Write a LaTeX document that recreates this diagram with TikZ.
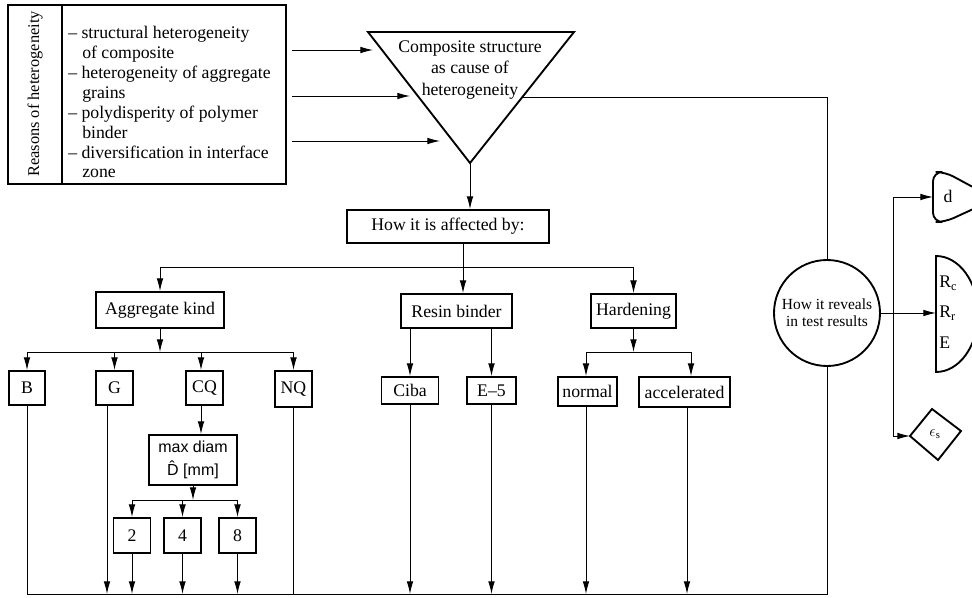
\documentclass[tikz,border=0pt]{standalone}
\usepackage{fontspec}
\setmainfont{Liberation Serif}
\newfontfamily\sansf{Liberation Sans}
\usetikzlibrary{arrows.meta}
\begin{document}
\begin{tikzpicture}[x=0.75pt,y=-0.75pt,
  thick line/.style={line width=1.4pt},
  txt/.style={font=\fontsize{13.3pt}{15.8pt}\selectfont},
  bx/.style 2 args={draw,thick line,inner sep=0pt,txt,minimum width=#1*0.75pt,minimum height=#2*0.75pt},
  conn/.style={line width=0.7pt},
  arr/.style={conn,-{Latex[length=9.5pt,width=5pt]}},
  lst/.style={anchor=base west,inner sep=0pt,txt},
]
\useasboundingbox (0,0) rectangle (972,598);
\clip (0,0) rectangle (972,598);

% ---- reasons box ----
\node[bx={278}{179}] (reasons) at (147,94.5) {};
\draw[thick line] (62,5) -- (62,184);
\node[rotate=90,inner sep=0pt,font=\fontsize{12.3pt}{14pt}\selectfont] (rlabel) at (35,94) {Reasons of heterogeneity};
\node[lst] (l1) at (68,39) {– structural heterogeneity};
\node[lst] (l2) at (82,59) {of composite};
\node[lst] (l3) at (68,79) {– heterogeneity of aggregate};
\node[lst] (l4) at (82,99) {grains};
\node[lst] (l5) at (68,119) {– polydisperity of polymer};
\node[lst] (l6) at (82,139) {binder};
\node[lst] (l7) at (68,159) {– diversification in interface};
\node[lst] (l8) at (82,178) {zone};

% ---- triangle ----
\coordinate (tA) at (368,32);
\coordinate (tB) at (574,32);
\coordinate (tC) at (470,163);
\coordinate (tR) at (522,97);
\draw[thick line] (tA) -- (tB) -- (tC) -- cycle;
\node[txt,align=center,inner sep=0pt] (tri) at (470,70) {Composite structure\\as cause of\\heterogeneity};

\coordinate (s1) at (292,50);  \coordinate (e1) at (373,50);
\coordinate (s2) at (292,96);  \coordinate (e2) at (410,96);
\coordinate (s3) at (292,141); \coordinate (e3) at (440,141);
\draw[arr] (s1) -- (e1);
\draw[arr] (s2) -- (e2);
\draw[arr] (s3) -- (e3);

% ---- how affected ----
\node[bx={202}{33}] (how) at (448,226.5) {How it is affected by:};
\draw[arr] (tC) -- (tC |- how.north);

\node[bx={128}{36}] (agg) at (160,310) {Aggregate kind};
\node[bx={111}{34}] (resin) at (456.5,311) {Resin binder};
\node[bx={85}{34}] (hard) at (633.5,311) {Hardening};

\coordinate (j1) at (160,267);
\coordinate (j2) at (633.5,267);
\draw[conn] (j1) -- (j2);
\draw[arr] (j1) -- (agg.north);
\draw[arr] (j2) -- (hard.north);
\draw[arr] (how.south -| 463,0) -- (resin.north -| 463,0);

% ---- aggregate kinds ----
\node[bx={36}{34}] (B) at (27,388) {B};
\node[bx={37}{34}] (G) at (114.5,388) {G};
\node[bx={37}{34}] (CQ) at (204.5,388) {CQ};
\node[bx={37}{36}] (NQ) at (293.5,389) {NQ};

\coordinate (kB) at (27,352);
\coordinate (kNQ) at (293.5,352);
\draw[conn] (kB) -- (kNQ);
\draw[arr] (agg.south) -- (agg.south |- kB);
\draw[arr] (kB) -- (B.north);
\draw[arr] (G.north |- kB) -- (G.north);
\draw[arr] (kB -| 201,0) -- (CQ.north -| 201,0);
\draw[arr] (kNQ) -- (NQ.north);

\node[bx={88}{50},align=center,font=\sansf\fontsize{12pt}{17pt}\selectfont] (maxd) at (193,460) {max diam\\\^{D} [mm]};
\draw[arr] (CQ.south -| 201,0) -- (maxd.north -| 201,0);

\node[bx={37}{35}] (n2) at (132,535.5) {2};
\node[bx={37}{35}] (n4) at (182.5,535.5) {4};
\node[bx={37}{35}] (n8) at (237.5,535.5) {8};
\coordinate (m2) at (132,500);
\coordinate (m8) at (237.5,500);
\draw[conn] (m2) -- (m8);
\draw[arr] (maxd.south) -- (maxd.south |- m2);
\draw[arr] (m2) -- (n2.north);
\draw[arr] (n4.north |- m2) -- (n4.north);
\draw[arr] (m8) -- (n8.north);

% ---- resin / hardening kinds ----
\node[bx={57}{27}] (ciba) at (410,390.5) {Ciba};
\node[bx={49}{27}] (e5) at (491.5,390.5) {E–5};
\node[bx={59}{29}] (normal) at (587.5,391.5) {normal};
\node[bx={91}{30}] (acc) at (684.5,392) {accelerated};

\draw[arr] (resin.south -| ciba.north) -- (ciba.north);
\draw[arr] (resin.south -| e5.north) -- (e5.north);
\coordinate (h1) at (586,352);
\coordinate (h2) at (691,352);
\draw[arr] (hard.south) -- (hard.south |- h1);
\draw[conn] (h1) -- (h2);
\draw[arr] (h1) -- (h1 |- normal.north);
\draw[arr] (h2) -- (h2 |- acc.north);

% ---- reveals circle ----
\node[draw,circle,thick line,minimum size=106*0.75pt,inner sep=0pt,align=center,font=\fontsize{11.6pt}{13pt}\selectfont] (rev) at (827,313) {How it reveals\\in test results};
\draw[conn] (tR) -- (tR -| rev.north) -- (rev.north);

% ---- bottom collecting line ----
\coordinate (bl) at (27,594);
\coordinate (br) at (827,594);
\draw[conn] (rev.south) -- (br) -- (bl);
\draw[conn] (B.south) -- (B.south |- bl);
\draw[conn] (NQ.south) -- (NQ.south |- bl);
\draw[arr] (G.south -| 107,0) -- (107,594);
\draw[arr] (n2.south) -- (n2.south |- bl);
\draw[arr] (n4.south) -- (n4.south |- bl);
\draw[arr] (n8.south) -- (n8.south |- bl);
\draw[arr] (ciba.south) -- (ciba.south |- bl);
\draw[arr] (e5.south) -- (e5.south |- bl);
\draw[arr] (normal.south -| 586,0) -- (586,594);
\draw[arr] (acc.south -| 687,0) -- (687,594);

% ---- right outputs ----
\coordinate (rb) at (893,313);
\coordinate (rt) at (893,197);
\coordinate (rbt) at (893,436);
\coordinate (dL) at (933,197);
\coordinate (RL) at (936,313);
\coordinate (eL) at (910,436);
\draw[conn] (rev.east) -- (rb);
\draw[conn] (rt) -- (rbt);
\draw[arr] (rt) -- (dL);
\draw[arr] (rb) -- (RL);
\draw[arr] (rbt) -- (eL);

\draw[thick line,rounded corners=7pt] (995,199) -- (945,172) -- (933,172) -- (933,222) -- (945,222) -- cycle;
\node[txt,inner sep=0pt] (dtxt) at (948,196) {d};

\draw[thick line] (936,256) arc[start angle=90,end angle=-90,x radius=31.5pt,y radius=43.5pt] -- cycle;
\node[txt,anchor=west,inner sep=0pt] (rc) at (939,283) {R\textsubscript{c}};
\node[txt,anchor=west,inner sep=0pt] (rr) at (939,313) {R\textsubscript{r}};
\node[txt,anchor=west,inner sep=0pt] (ee) at (939,343) {E};

\draw[thick line] (eL) -- (932,409) -- (961,431) -- (938,460) -- cycle;
\node[inner sep=0pt,font=\fontsize{12pt}{14pt}\selectfont] (eps) at (935,434) {$\epsilon_{\mathrm{s}}$};
\end{tikzpicture}
\end{document}
